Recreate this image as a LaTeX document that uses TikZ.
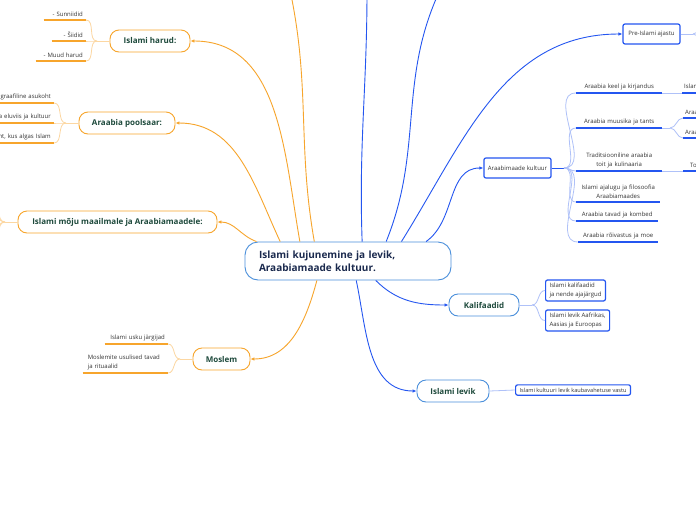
\documentclass[tikz,border=0pt]{standalone}
\usepackage{fontspec}
\setmainfont{Open Sans}
\usepackage{xcolor}
\usetikzlibrary{arrows.meta,positioning}
\definecolor{orangeline}{HTML}{F7A52C}
\definecolor{orangesoft}{HTML}{FCD7A2}
\definecolor{blueline}{HTML}{2456F0}
\definecolor{bluesoft}{HTML}{AFC1F8}
\definecolor{centerblue}{HTML}{4A8FDB}
\definecolor{topictext}{HTML}{1E4A3C}
\definecolor{roottext}{HTML}{1B2A4E}
\definecolor{leaftext}{HTML}{333333}

\begin{document}
\begin{tikzpicture}[
    x=1pt, y=1pt,
    font=\fontsize{6}{9}\selectfont,
    root/.style={draw=centerblue, line width=0.9pt, rounded corners=13pt, fill=white, minimum width=206pt, minimum height=38pt, text width=178pt, align=left, text=roottext, font=\fontsize{10}{13}\selectfont\bfseries},
    otopic/.style={draw=orangeline, line width=0.9pt, rounded corners=9pt, fill=white, minimum height=22pt, inner sep=0pt, text=topictext, font=\fontsize{8}{9.5}\selectfont\bfseries},
    btopic/.style={otopic, draw=centerblue},
    bbox/.style={draw=blueline, line width=1.2pt, rounded corners=2pt, fill=white, inner xsep=4pt, inner ysep=3pt, align=left, text=leaftext},
    oleaf/.style={anchor=south east, align=right, inner xsep=3pt, inner ysep=3pt, text=leaftext},
    bleaf/.style={anchor=south west, align=center, inner xsep=2pt, inner ysep=3pt, text=leaftext},
    ulo/.style={draw=orangeline, line width=1.3pt},
    ulb/.style={draw=blueline, line width=1.3pt},
    osoft/.style={draw=orangesoft, line width=0.8pt},
    bsoft/.style={draw=bluesoft, line width=0.8pt},
    oline/.style={draw=orangeline, line width=0.9pt},
    bline/.style={draw=blueline, line width=0.9pt},
    omain/.style={oline, -{Latex[length=4pt,width=3.5pt]}},
    bmain/.style={bline, -{Latex[length=4pt,width=3.5pt]}}
]
\useasboundingbox[fill=white] (0,0) rectangle (696,-520);

% centre
\node[root] (root) at (348,-261) {Islami kujunemine ja levik,\\Araabiamaade kultuur.};

% orange topics
\node[otopic, minimum width=80pt] (harud) at (150,-41) {Islami harud:};
\node[otopic, minimum width=96pt] (poolsaar) at (127,-123) {Araabia poolsaar:};
\node[otopic, minimum width=199pt] (moju) at (117.5,-222) {Islami mõju maailmale ja Araabiamaadele:};
\node[otopic, minimum width=57pt] (moslem) at (221.5,-359) {Moslem};

% orange leaves
\node[oleaf, text width=36pt] (sunni) at (86,-20) {- Sunniidid};
\node[oleaf, text width=28pt] (siiid) at (86,-41) {- Šiidid};
\node[oleaf, text width=44pt] (muud) at (86,-61) {- Muud harud};
\node[oleaf, text width=90pt] (asukoht) at (54,-103) {Geograafiline asukoht};
\node[oleaf, text width=90pt] (eluviis) at (54,-123) {Araabia eluviis ja kultuur};
\node[oleaf, text width=90pt] (algas) at (54,-143) {Koht, kus algas Islam};
\node[oleaf, text width=57pt] (jargijad) at (168,-344) {Islami usku järgijad};
\node[oleaf, text width=75pt, align=left, inner xsep=5pt] (tavad) at (168,-373) {Moslemite usulised tavad\\ja rituaalid};

% blue topics
\node[bbox, minimum width=57pt, minimum height=20pt, align=center] (preislam) at (651.5,-34) {Pre-Islami ajastu};
\node[bbox, minimum width=67pt, minimum height=20pt, align=center] (kultuur) at (517.5,-168) {Araabimaade kultuur};
\node[btopic, minimum width=70pt] (kalif) at (484,-305) {Kalifaadid};
\node[btopic, minimum width=72pt] (levik) at (453,-391) {Islami levik};
\node[bbox, anchor=west] (kalif1) at (545,-290.5) {Islami kalifaadid\\ja nende ajajärgud};
\node[bbox, anchor=west] (kalif2) at (545,-320.5) {Islami levik Aafrikas,\\Aasias ja Euroopas};
\node[bbox, anchor=west, font=\fontsize{5.6}{8}\selectfont] (levik1) at (515,-390) {Islami kultuuri levik kaubavahetuse vastu};

% blue leaves
\node[bleaf, text width=82pt] (keel) at (576,-93) {Araabia keel ja kirjandus};
\node[bleaf, text width=82pt] (muusika) at (576,-128) {Araabia muusika ja tants};
\node[bleaf, text width=82pt] (toit) at (576,-171) {Traditsiooniline araabia\\toit ja kulinaaria};
\node[bleaf, text width=80pt] (ajalugu) at (576,-202) {Islami ajalugu ja filosoofia\\Araabiamaades};
\node[bleaf, text width=78pt] (kombed) at (576,-221) {Araabia tavad ja kombed};
\node[bleaf, text width=76pt] (roivad) at (578,-242) {Araabia rõivastus ja moe};
\node[bleaf, text width=50pt, align=left] (kirjandus) at (682,-93) {Islami kirjandus};
\node[bleaf, text width=50pt, align=left] (muus1) at (683,-118) {Araabia muusika};
\node[bleaf, text width=50pt, align=left] (muus2) at (683,-138) {Araabia tantsud};
\node[bleaf, text width=50pt, align=left, inner xsep=7pt] (toidud) at (683,-171) {Toidud};

% ends off the page
\coordinate (offA) at (290,10);
\coordinate (offB) at (367,10);
\coordinate (offC) at (440,10);
\coordinate (prefork) at (693,-34);
\coordinate (offD) at (706,-24);
\coordinate (offE) at (706,-44);

% main connectors
\draw[omain] (root.158) to[out=100,in=0] (harud.east);
\draw[omain] (root.164) to[out=115,in=0] (poolsaar.east);
\draw[omain] (root.168) to[out=160,in=0] (moju.east);
\draw[omain] (root.212) to[out=255,in=0] (moslem.east);
\draw[oline] (root.150) to[out=100,in=-78] (offA);
\draw[bline] (root.54) to[out=92,in=-90] (offB);
\draw[bline] (root.27) to[out=68,in=-115] (offC);
\draw[bmain] (root.20) to[out=58,in=180] (preislam.west);
\draw[bmain] (root.14) to[out=35,in=180] (kultuur.west);
\draw[bmain] (root.325) to[out=-45,in=180] (kalif.west);
\draw[bmain] (root.293) to[out=-78,in=180] (levik.west);

% orange forks
\coordinate (harudfork) at (97,-41);
\draw[osoft] (harud.west) -- (harudfork);
\foreach \n in {sunni,siiid,muud} {
  \draw[osoft] (harudfork) to[out=180,in=0] (\n.south east);
  \draw[ulo] (\n.south west) -- (\n.south east);
}
\coordinate (poolfork) at (66,-123);
\draw[osoft] (poolsaar.west) -- (poolfork);
\foreach \n in {asukoht,eluviis,algas} {
  \draw[osoft] (poolfork) to[out=180,in=0] (\n.south east);
  \draw[ulo] (\n.south west) -- (\n.south east);
}
\coordinate (mojufork) at (5,-222);
\draw[osoft] (moju.west) -- (mojufork);
\foreach \y in {-185,-200,-244,-258} {
  \draw[osoft] (mojufork) to[out=180,in=0] (-8,\y);
}
\coordinate (moslemfork) at (180,-359);
\draw[osoft] (moslem.west) -- (moslemfork);
\foreach \n in {jargijad,tavad} {
  \draw[osoft] (moslemfork) to[out=180,in=0] (\n.south east);
  \draw[ulo] (\n.south west) -- (\n.south east);
}

% blue forks
\draw[bsoft] (preislam.east) -- (prefork);
\draw[bsoft] (prefork) to[out=0,in=180] (offD);
\draw[bsoft] (prefork) to[out=0,in=180] (offE);
\coordinate (kultfork) at (564,-168);
\draw[bline] (kultuur.east) -- (kultfork);
\foreach \n in {keel,muusika,toit,ajalugu,kombed,roivad} {
  \draw[bsoft] (kultfork) to[out=0,in=180] (\n.south west);
  \draw[ulb] (\n.south west) -- (\n.south east);
}
\draw[bsoft] (keel.south east) -- (kirjandus.south west);
\coordinate (muusfork) at (670,-128);
\draw[bsoft] (muusika.south east) -- (muusfork);
\draw[bsoft] (muusfork) to[out=0,in=180] (muus1.south west);
\draw[bsoft] (muusfork) to[out=0,in=180] (muus2.south west);
\draw[bsoft] (toit.south east) -- (toidud.south west);
\foreach \n in {kirjandus,muus1,muus2,toidud} {
  \draw[ulb] (\n.south west) -- (\n.south east);
}
\coordinate (kaliffork) at (532,-305);
\draw[bsoft] (kalif.east) -- (kaliffork);
\draw[bsoft] (kaliffork) to[out=0,in=180] (kalif1.west);
\draw[bsoft] (kaliffork) to[out=0,in=180] (kalif2.west);
\draw[bsoft] (levik.east) -- (levik1.west);
\end{tikzpicture}
\end{document}
